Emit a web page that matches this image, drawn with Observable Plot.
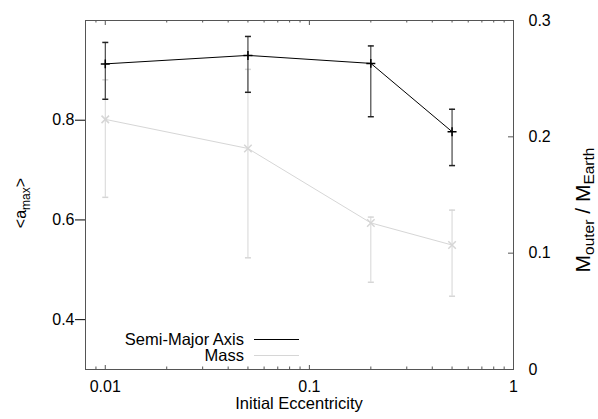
<!DOCTYPE html>
<html><head><meta charset="utf-8">
<script src="https://cdn.jsdelivr.net/npm/d3@7"></script>
<script src="https://cdn.jsdelivr.net/npm/@observablehq/plot@0.6"></script>
<style>
body{margin:0;background:#fff}
#wrap{position:relative;width:598px;height:419px}
#wrap svg{position:absolute;left:0;top:0;max-width:none}
</style></head><body><div id="wrap"></div>
<script>
// ---- data ----
const ecc = [0.01, 0.05, 0.2, 0.5];
const smaMean = [0.913, 0.930, 0.914, 0.777];
const smaLo   = [0.842, 0.856, 0.807, 0.709];
const smaHi   = [0.956, 0.968, 0.949, 0.822];
const massMean = [0.215, 0.190, 0.126, 0.107];
const massLo   = [0.148, 0.096, 0.075, 0.063];
const massHi   = [0.249, 0.258, 0.131, 0.137];
const xTicks = [0.01, 0.1, 1];
const xMinorTicks = [0.009, 0.02, 0.03, 0.04, 0.05, 0.06, 0.07, 0.08, 0.09, 0.2, 0.3, 0.4, 0.5, 0.6, 0.7, 0.8, 0.9];
const yLeftTicks = [0.4, 0.6, 0.8];
const yRightTicks = [0, 0.1, 0.2, 0.3];
const xDomain = [0.008, 1];
const yLeftDomain = [0.3, 1.0];
const yRightDomain = [0, 0.3];
const seriesNames = ["Semi-Major Axis", "Mass"];

// ---- layout ----
const W = 598, H = 419, mL = 85, mR = 85, mT = 20, mB = 50;
const frameH = H - mT - mB, frameW = W - mL - mR;
const font = "'Liberation Sans', Arial, Helvetica, sans-serif";
const axisColor = "#555";
const smaColor = "#000", smaBarColor = "#222", massColor = "#d6d6d6";

const sma = ecc.map((x, i) => ({x, y: smaMean[i], lo: smaLo[i], hi: smaHi[i]}));
const mass = ecc.map((x, i) => ({x, y: massMean[i], lo: massLo[i], hi: massHi[i]}));

const cap = {draw(ctx, size) { const r = Math.sqrt(size / Math.PI); ctx.moveTo(-r, 0); ctx.lineTo(r, 0); }};

const baseStyle = {fontFamily: font, fontSize: "16px", color: "#000", background: "transparent", overflow: "visible"};

// bottom layer: frame, x axis, right axis, mass series
const p1 = Plot.plot({
  width: W, height: H, marginLeft: mL, marginRight: mR, marginTop: mT, marginBottom: mB,
  style: baseStyle,
  x: {type: "log", domain: xDomain, ticks: xTicks, tickSize: 0, tickPadding: 11, tickFormat: d => String(d), label: null},
  y: {domain: yRightDomain, axis: "right", ticks: yRightTicks, tickSize: 0, tickPadding: 15,
      tickFormat: d => d === 0 ? "0" : d3.format(".1f")(d), label: null},
  marks: [
    Plot.tickX(xTicks, {x: d => d, insetTop: frameH - 4, stroke: axisColor}),
    Plot.tickX(xTicks, {x: d => d, insetBottom: frameH - 5, stroke: axisColor}),
    Plot.tickX(xMinorTicks, {x: d => d, insetTop: frameH - 2.5, stroke: axisColor}),
    Plot.tickX(xMinorTicks, {x: d => d, insetBottom: frameH - 2.5, stroke: axisColor}),
    Plot.tickY(yRightTicks, {y: d => d, insetLeft: frameW - 5, stroke: axisColor}),
    Plot.ruleX(mass, {x: "x", y1: "lo", y2: "hi", stroke: massColor}),
    Plot.dot(mass, {x: "x", y: "lo", symbol: cap, r: 3, stroke: massColor, fill: "none"}),
    Plot.dot(mass, {x: "x", y: "hi", symbol: cap, r: 3, stroke: massColor, fill: "none"}),
    Plot.line(mass, {x: "x", y: "y", stroke: massColor, strokeWidth: 1}),
    Plot.dot(mass, {x: "x", y: "y", symbol: "times", r: 3.5, stroke: massColor, fill: "none"}),
    Plot.frame({stroke: axisColor})
  ]
});

// top layer: left axis, semi-major axis series
const p2 = Plot.plot({
  width: W, height: H, marginLeft: mL, marginRight: mR, marginTop: mT, marginBottom: mB,
  style: baseStyle,
  x: {type: "log", domain: xDomain, axis: null},
  y: {domain: yLeftDomain, axis: "left", ticks: yLeftTicks, tickSize: 10, tickPadding: 1,
      tickFormat: d3.format(".1f"), label: null},
  marks: [
    Plot.ruleX(sma, {x: "x", y1: "lo", y2: "hi", stroke: smaBarColor}),
    Plot.dot(sma, {x: "x", y: "lo", symbol: cap, r: 3, stroke: smaBarColor, fill: "none"}),
    Plot.dot(sma, {x: "x", y: "hi", symbol: cap, r: 3, stroke: smaBarColor, fill: "none"}),
    Plot.line(sma, {x: "x", y: "y", stroke: smaColor, strokeWidth: 1}),
    Plot.dot(sma, {x: "x", y: "y", symbol: "plus", r: 3, stroke: smaColor, fill: "none"})
  ]
});

const wrap = document.getElementById("wrap");
wrap.appendChild(p1);
wrap.appendChild(p2);

// titles and legend
const svg = d3.select(p2);
const g = svg.append("g").attr("font-family", font).attr("font-size", 16.5).attr("fill", "#000");

g.append("text").attr("x", mL + frameW / 2).attr("y", 409).attr("text-anchor", "middle").text("Initial Eccentricity");

const lt = g.append("text").attr("transform", "translate(26,203) rotate(-90)").attr("text-anchor", "middle").attr("font-size", 16);
lt.append("tspan").text("<a");
lt.append("tspan").attr("dy", 4).attr("font-size", 12).text("max");
lt.append("tspan").attr("dy", -4).text(">");

const rt = g.append("text").attr("transform", "translate(590,210) rotate(-90)").attr("text-anchor", "middle").attr("font-size", 21);
rt.append("tspan").text("M");
rt.append("tspan").attr("dy", 3.5).attr("font-size", 15.5).text("outer");
rt.append("tspan").attr("dy", -3.5).text(" / M");
rt.append("tspan").attr("dy", 3.5).attr("font-size", 15.5).text("Earth");

const legendY = [339, 355];
const legendColors = [smaColor, massColor];
seriesNames.forEach((name, i) => {
  g.append("text").attr("x", 244).attr("y", legendY[i] + 6).attr("text-anchor", "end").text(name);
  g.append("line").attr("x1", 254).attr("x2", 299).attr("y1", legendY[i] + 0.5).attr("y2", legendY[i] + 0.5)
    .attr("stroke", legendColors[i]).attr("stroke-width", 1);
});
</script>
</body></html>
